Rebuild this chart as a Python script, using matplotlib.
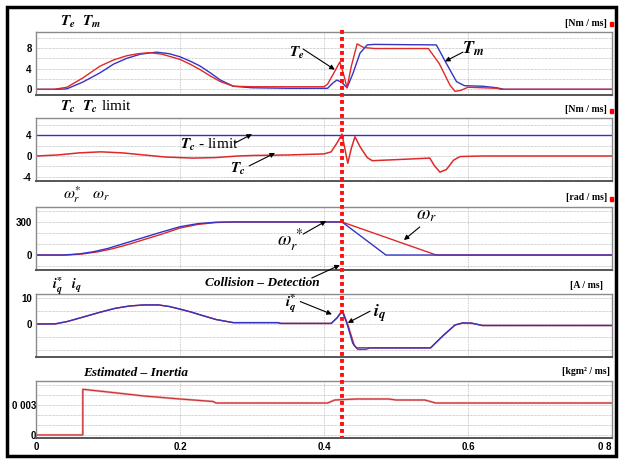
import matplotlib
matplotlib.use('Agg')
import matplotlib.pyplot as plt
from matplotlib.lines import Line2D
from matplotlib.patches import Rectangle
import matplotlib.transforms as mtransforms

# ---------------- data ----------------
# Panel 1: electromagnetic torque Te (red) and motor torque Tm (blue)
te_t = [0, 0.025, 0.043, 0.065, 0.089, 0.108, 0.126, 0.142, 0.158, 0.175, 0.2, 0.215, 0.228, 0.242,
        0.256, 0.274, 0.3, 0.35, 0.40, 0.405, 0.415, 0.422, 0.428, 0.432, 0.438, 0.446, 0.455, 0.47,
        0.545, 0.56, 0.575, 0.582, 0.59, 0.6, 0.62, 0.64, 0.645, 0.8]
te_v = [0, 0, 0.4, 2.2, 4.5, 5.7, 6.5, 6.9, 7.1, 6.8, 5.8, 4.8, 3.8, 2.6,
        1.5, 0.6, 0.5, 0.5, 0.5, 1.0, 3.5, 5.3, 2.5, 0.3, 4.5, 8.8, 8.1, 7.9,
        7.9, 5.0, 0.8, -0.4, -0.2, 0.4, 0.3, 0.2, 0, 0]
tm_t = [0, 0.03, 0.043, 0.065, 0.089, 0.108, 0.126, 0.145, 0.167, 0.185, 0.2, 0.215, 0.228, 0.242,
        0.256, 0.274, 0.3, 0.35, 0.40, 0.405, 0.412, 0.418, 0.425, 0.432, 0.44, 0.45, 0.46, 0.47,
        0.556, 0.57, 0.584, 0.595, 0.62, 0.64, 0.65, 0.8]
tm_v = [0, 0, 0.1, 1.4, 3.2, 4.9, 6.0, 6.8, 7.2, 6.9, 6.3, 5.4, 4.5, 3.2,
        1.8, 0.6, 0.3, 0.2, 0.2, 0.2, 1.2, 1.8, 1.3, 0.3, 3.0, 7.0, 8.6, 8.7,
        8.6, 5.0, 1.5, 0.7, 0.6, 0.3, 0, 0]

# Panel 2: collision torque Tc (red) and limit (blue)
tc_t = [0, 0.03, 0.06, 0.09, 0.12, 0.15, 0.18, 0.218, 0.25, 0.28, 0.30, 0.35, 0.40, 0.41, 0.418,
        0.425, 0.433, 0.438, 0.443, 0.45, 0.46, 0.467, 0.5, 0.547, 0.553, 0.561, 0.57, 0.58, 0.589,
        0.62, 0.8]
tc_v = [0, 0.2, 0.6, 0.8, 0.6, 0.2, -0.2, -0.4, -0.3, 0, 0.1, 0.2, 0.4, 0.8, 2.5,
        4.2, -1.4, 1.5, 3.7, 1.8, -0.3, -0.9, -0.7, -0.4, -1.8, -3.1, -2.6, -0.8, -0.1,
        0, 0]
lim_t = [0, 0.8]
lim_v = [4, 4]

# Panel 3: speed reference (blue) and speed (red)
wref_t = [0, 0.038, 0.06, 0.08, 0.1, 0.12, 0.145, 0.17, 0.2, 0.225, 0.25, 0.27, 0.3, 0.425, 0.486, 0.8]
wref_v = [0, 0, 10, 30, 60, 100, 150, 200, 257, 285, 298, 300, 300, 300, 0, 0]
w_t = [0, 0.042, 0.065, 0.085, 0.105, 0.125, 0.15, 0.175, 0.2, 0.225, 0.25, 0.275, 0.3, 0.425, 0.556, 0.8]
w_v = [0, 0, 10, 28, 55, 90, 140, 190, 245, 278, 295, 300, 300, 300, 0, 0]

# Panel 4: q-axis current reference (blue) and current (red)
iqr_t = [0, 0.026, 0.043, 0.065, 0.089, 0.11, 0.13, 0.15, 0.17, 0.185, 0.2, 0.215, 0.228, 0.25,
         0.274, 0.336, 0.34, 0.41, 0.418, 0.425, 0.432, 0.44, 0.445, 0.548, 0.565, 0.582, 0.593,
         0.605, 0.62, 0.8]
iqr_v = [0, 0, 0.9, 2.6, 4.5, 6.0, 6.9, 7.3, 7.3, 6.7, 5.7, 4.6, 3.5, 1.7,
         0.5, 0.5, 0.2, 0.2, 2.3, 5.1, 0, -7.5, -9.2, -9.2, -4.6, -0.4, 0.4,
         0.3, -0.6, -0.6]
iq_t = [0, 0.026, 0.043, 0.065, 0.089, 0.11, 0.13, 0.15, 0.17, 0.185, 0.2, 0.215, 0.228, 0.25,
        0.274, 0.336, 0.34, 0.41, 0.418, 0.426, 0.434, 0.442, 0.447, 0.458, 0.464, 0.548, 0.565,
        0.582, 0.593, 0.605, 0.62, 0.8]
iq_v = [0, 0, 0.9, 2.6, 4.5, 6.0, 6.9, 7.3, 7.3, 6.7, 5.7, 4.6, 3.5, 1.7,
        0.5, 0.5, 0.2, 0.2, 2.3, 5.0, -1.0, -8.2, -9.8, -9.8, -9.2, -9.2, -4.6,
        -0.4, 0.4, 0.3, -0.6, -0.6]

# Panel 5: estimated inertia
jin_t = [0, 0.065, 0.065, 0.1, 0.15, 0.2, 0.246, 0.25, 0.405, 0.415, 0.445, 0.49, 0.5, 0.54, 0.555, 0.8]
jin_v = [0, 0, 0.00457, 0.0043, 0.0039, 0.0036, 0.00335, 0.0032, 0.0032, 0.0035, 0.0036, 0.0036,
         0.0035, 0.0035, 0.0032, 0.0032]

t_collision = 0.425

x_ticks = [0, 0.2, 0.4, 0.6, 0.8]
x_ticklabels = ['0', '0.2', '0.4', '0.6', '0 8']

p1_grid = [0, 2, 4, 6, 8, 10]
p1_labels = ['0', '', '4', '', '8', '']
p2_grid = [-4, -2, 0, 2, 4, 6]
p2_labels = ['-4', '', '0', '', '4', '']
p3_grid = [-100, 0, 100, 200, 300, 400]
p3_labels = ['', '0', '', '', '300', '']
p4_grid = [-10, -5, 0, 5, 10]
p4_labels = ['', '', '0', '', '10']
p5_grid = [0, 0.001, 0.002, 0.003, 0.004, 0.005]
p5_labels = ['0', '', '', '0 003', '', '']

units = ['[Nm / ms]', '[Nm / ms]', '[rad / ms]', '[A / ms]', '[kgm\u00b2 / ms]']

# ---------------- style ----------------
plt.rcParams['mathtext.fontset'] = 'stix'
plt.rcParams['font.family'] = ['Liberation Serif', 'DejaVu Serif']

W, H = 619, 459
fig = plt.figure(figsize=(W / 100, H / 100), dpi=100)


def fx(px):
    return px / W


def fy(py):
    return 1 - py / H


RED = '#e02828'
BLUE = '#3434c4'

panels = [(32, 95), (118, 181), (207, 270), (294, 357), (381, 438)]
ylims = [(-1.1, 11.1), (-4.8, 7.3), (-136, 436), (-12.7, 11.5), (-0.0003, 0.0054)]
grids = [p1_grid, p2_grid, p3_grid, p4_grid, p5_grid]
glabels = [p1_labels, p2_labels, p3_labels, p4_labels, p5_labels]

axes = []
for i, (top, bot) in enumerate(panels):
    ax = fig.add_axes([fx(36), fy(bot), fx(612) - fx(36), (bot - top) / H])
    ax.set_xlim(0, 0.8)
    ax.set_ylim(*ylims[i])
    ax.set_yticks(grids[i])
    ax.set_yticklabels(glabels[i], fontweight='bold', family='Liberation Sans', fontsize=7)
    ax.set_xticks(x_ticks)
    if i == 4:
        ax.set_xticklabels(x_ticklabels, fontweight='bold', family='Liberation Sans', fontsize=7)
        ax.get_xticklabels()[-1].set_ha('right')
        ax.tick_params(axis='y', pad=0)
    else:
        ax.set_xticklabels([])
    ax.tick_params(length=0)
    ax.tick_params(axis='x', pad=3)
    if i != 4:
        ax.tick_params(axis='y', pad=3)
    ax.grid(axis='y', color='#a8a8a8', linestyle=(0, (1, 1)), linewidth=0.5)
    ax.grid(axis='x', color='#b8b8b8', linestyle=(0, (2, 1.5)), linewidth=0.5)
    for s in ['top', 'left', 'right']:
        ax.spines[s].set_color('#8a8a8a')
        ax.spines[s].set_linewidth(1.0)
    ax.spines['bottom'].set_color('#555555')
    ax.spines['bottom'].set_linewidth(1.4)
    axes.append(ax)

ax1, ax2, ax3, ax4, ax5 = axes

ax1.plot(tm_t, tm_v, color=BLUE, lw=1.0)
ax1.plot(te_t, te_v, color=RED, lw=1.0)

ax2.plot(lim_t, lim_v, color=BLUE, lw=1.0)
ax2.plot(tc_t, tc_v, color=RED, lw=1.1)

ax3.plot(w_t, w_v, color=RED, lw=1.0)
ax3.plot(wref_t, wref_v, color=BLUE, lw=1.0)

ax4.plot(iq_t, iq_v, color=RED, lw=1.0)
ax4.plot(iqr_t, iqr_v, color=BLUE, lw=1.0)

ax5.plot(jin_t, jin_v, color='#f0a8a8', lw=1.6)
ax5.plot(jin_t, jin_v, color='#c83030', lw=0.8)

# collision line across all panels
blend = mtransforms.blended_transform_factory(ax5.transData, fig.transFigure)
fig.add_artist(Line2D([t_collision, t_collision], [fy(30), fy(438)], transform=blend,
                      color='#ff1010', lw=2.8, linestyle=(0, (1.0, 0.8)), zorder=10))

# ---------------- texts ----------------
def ftext(px, py, s, **kw):
    fig.text(fx(px), fy(py), s, **kw)


ftext(60, 22, r'$\mathbfit{T}_{\mathbfit{e}}\ \ \mathbfit{T}_{\mathbfit{m}}$', fontsize=11, va='center')
ftext(60, 107, r'$\mathbfit{T}_{\mathbfit{c}}\ \ \mathbfit{T}_{\mathbfit{c}}$ limit', fontsize=11, va='center')
ftext(63, 195, r'$\omega_r^{*}\ \ \ \omega_r$', fontsize=11.5, va='center')
ftext(52, 286, r'$\mathbfit{i}_{\mathbfit{q}}^{\mathbf{*}}\ \ \ \mathbfit{i}_{\mathbfit{q}}$', fontsize=10, va='center')
ftext(83, 373, 'Estimated \u2013 Inertia', fontsize=9.5, fontweight='bold', fontstyle='italic', va='center')

unit_y = [24, 110, 198, 286, 372]
unit_x = [607, 607, 607, 603, 610]
for u, uy, ux in zip(units, unit_y, unit_x):
    ftext(ux, uy, u, fontsize=7, fontweight='bold', ha='right', va='center')
for sy in [24, 111, 199]:
    fig.add_artist(Rectangle((fx(610), fy(sy + 2)), 3 / W, 4 / H, color='#ff0000',
                             transform=fig.transFigure))

arrow = dict(arrowstyle='-|>', color='black', lw=0.8, mutation_scale=7, shrinkA=0, shrinkB=0)

# panel 1
ax1.text(0.3625, 7.0, r'$\mathbfit{T}_{\mathbfit{e}}$', fontsize=11, ha='center', va='center')
ax1.annotate('', xy=(0.415, 3.8), xytext=(0.371, 7.8), arrowprops=arrow)
ax1.text(0.607, 7.8, r'$\mathbfit{T}_{\mathbfit{m}}$', fontsize=13, ha='center', va='center')
ax1.annotate('', xy=(0.568, 5.4), xytext=(0.593, 7.2), arrowprops=arrow)

# panel 2
ax2.text(0.2, 2.1, r'$\mathbfit{T}_{\mathbfit{c}}$ - limit', fontsize=11, ha='left', va='center')
ax2.annotate('', xy=(0.30, 4.2), xytext=(0.2764, 2.5), arrowprops=arrow)
ax2.text(0.281, -2.5, r'$\mathbfit{T}_{\mathbfit{c}}$', fontsize=11, ha='center', va='center')
ax2.annotate('', xy=(0.332, 0.57), xytext=(0.296, -1.9), arrowprops=arrow)

# panel 3
ax3.text(0.353, 130, r'$\omega_r^{\,*}$', fontsize=14, ha='center', va='center')
ax3.annotate('', xy=(0.403, 309), xytext=(0.371, 190), arrowprops=arrow)
ax3.text(0.542, 360, r'$\omega_r$', fontsize=14, ha='center', va='center')
ax3.annotate('', xy=(0.511, 136), xytext=(0.533, 255), arrowprops=arrow)
ax3.text(0.314, -255, 'Collision \u2013 Detection', fontsize=9.5, fontweight='bold', fontstyle='italic',
         ha='center', va='center', clip_on=False)
ax3.annotate('', xy=(0.422, -91), xytext=(0.383, -209), arrowprops=arrow, annotation_clip=False)

# panel 4
ax4.text(0.354, 7.8, r'$\mathbfit{i}_{\mathbfit{q}}^{\mathbf{*}}$', fontsize=11, ha='center', va='center')
ax4.annotate('', xy=(0.411, 3.7), xytext=(0.367, 8.6), arrowprops=arrow)
ax4.text(0.477, 4.3, r'$\mathbfit{i}_{\mathbfit{q}}$', fontsize=13, ha='center', va='center')
ax4.annotate('', xy=(0.433, 0.4), xytext=(0.464, 4.9), arrowprops=arrow)

# outer frame
fig.add_artist(Rectangle((fx(7), fy(456)), (616 - 7) / W, (456 - 7) / H, fill=False,
                         edgecolor='black', lw=2.5, transform=fig.transFigure))

fig.savefig('out.png', dpi=100)
